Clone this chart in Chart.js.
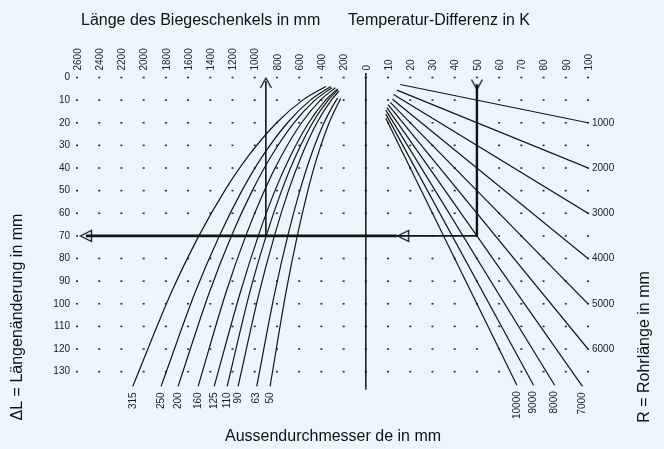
<!DOCTYPE html>
<html>
<head>
<meta charset="utf-8">
<script src="https://cdn.jsdelivr.net/npm/chart.js@4.4.1/dist/chart.umd.min.js"></script>
<style>
  html, body { margin: 0; padding: 0; background: #eaf5fc; }
</style>
</head>
<body>
<canvas id="nomogramm" width="664" height="449"></canvas>
<script>
// Achsenteilung: links Biegeschenkel in mm, rechts Temperaturdifferenz in K, senkrecht ΔL in mm
const laengeTicks = [2600, 2400, 2200, 2000, 1800, 1600, 1400, 1200, 1000, 800, 600, 400, 200];
const tempTicks = [0, 10, 20, 30, 40, 50, 60, 70, 80, 90, 100];
const dlTicks = [0, 10, 20, 30, 40, 50, 60, 70, 80, 90, 100, 110, 120, 130];

// Aussendurchmesser-Kurven: Biegeschenkel L (mm) bei den ΔL-Stützstellen
const durchmesser = ['315', '250', '200', '160', '125', '110', '90', '63', '50'];
const dlStuetz = [10, 20, 35, 50, 70, 95, 136.5];
const kurveStart = [[360, 4], [315, 4], [306, 4.5], [274, 4.5], [254, 5], [251, 5.5], [241, 6], [252, 9], [225, 9.3]];
const schenkelL = [
  [568, 803, 1062, 1270, 1503, 1751, 2098],
  [499, 705, 933, 1115, 1319, 1537, 1843],
  [457, 647, 855, 1022, 1210, 1409, 1690],
  [409, 578, 764, 914, 1081, 1259, 1510],
  [362, 514, 682, 818, 968, 1130, 1365],
  [339, 479, 634, 758, 897, 1045, 1248],
  [311, 440, 582, 696, 823, 959, 1150],
  [266, 376, 497, 594, 703, 819, 982],
  [233, 330, 437, 522, 617, 719, 862]
];

// Rohrlängen-Geraden: Anfangs- und Endpunkt (ΔT in K, ΔL in mm)
const rohrLaenge = [1000, 2000, 3000, 4000, 5000, 6000, 7000, 8000, 9000, 10000];
const rStartT = [15.5, 14, 12.5, 12, 11, 10, 9.5, 9, 9, 9];
const rStartDL = [3.1, 5.6, 7.5, 9.6, 11, 12, 13.3, 14.4, 16.2, 18];
const rEndT = [100, 100, 100, 100, 100, 100, 97.5, 85, 75.5, 68];
const rEndDL = [20, 40, 60, 80, 100, 120, 136.5, 136, 136, 136];

// Ablesebeispiel: ΔT = 50 K, R = 7000 mm -> ΔL = 70 mm -> L = 900 mm
const beispielDT = 50;
const beispielDL = 70;
const beispielL = 900;

const HG = '#eaf5fc';
const INK = '#141414';
const SCHRIFT = '"Liberation Sans", Arial, sans-serif';

// linke Hälfte: 200 mm Schenkel entsprechen 10 K
const X = l => -l / 20;

function pfeil(art) {
  const c = document.createElement('canvas');
  c.width = 14; c.height = 14;
  const g = c.getContext('2d');
  g.strokeStyle = INK; g.fillStyle = HG; g.lineWidth = 1.3;
  g.beginPath();
  if (art === 'hoch') { g.moveTo(1.5, 12); g.lineTo(7, 2); g.lineTo(12.5, 12); g.stroke(); }
  else if (art === 'runter') { g.moveTo(1.5, 2); g.lineTo(7, 12); g.lineTo(12.5, 2); g.stroke(); }
  else { g.moveTo(1.5, 7); g.lineTo(12.5, 1.5); g.lineTo(12.5, 12.5); g.closePath(); g.fill(); g.stroke(); }
  return c;
}

const datasets = [];

durchmesser.forEach((d, i) => {
  const pts = [{ x: X(kurveStart[i][0]), y: kurveStart[i][1] }];
  dlStuetz.forEach((dl, j) => pts.push({ x: X(schenkelL[i][j]), y: dl }));
  datasets.push({ data: pts, borderColor: INK, borderWidth: 1.2, pointRadius: 0, cubicInterpolationMode: 'monotone' });
});

rohrLaenge.forEach((r, i) => {
  datasets.push({
    data: [{ x: rStartT[i], y: rStartDL[i] }, { x: rEndT[i], y: rEndDL[i] }],
    borderColor: INK, borderWidth: 1.2, pointRadius: 0
  });
});

// Mittellinie bei 0
datasets.push({ data: [{ x: 0, y: -2 }, { x: 0, y: 138 }], borderColor: INK, borderWidth: 1.5, pointRadius: 0, clip: false });

// Beispiel-Linien
datasets.push({ data: [{ x: beispielDT, y: 3 }, { x: beispielDT, y: beispielDL }], borderColor: INK, borderWidth: 2.4, pointRadius: 0 });
datasets.push({ data: [{ x: beispielDT, y: beispielDL }, { x: 14, y: beispielDL }], borderColor: INK, borderWidth: 1.6, pointRadius: 0 });
datasets.push({ data: [{ x: 14, y: beispielDL }, { x: -126, y: beispielDL }], borderColor: INK, borderWidth: 2.6, pointRadius: 0 });
datasets.push({ data: [{ x: X(beispielL), y: beispielDL }, { x: X(beispielL), y: 1.5 }], borderColor: INK, borderWidth: 1.6, pointRadius: 0 });

// Pfeilspitzen
datasets.push({ data: [{ x: beispielDT, y: 3.1 }], showLine: false, pointStyle: pfeil('runter'), pointRadius: 7 });
datasets.push({ data: [{ x: X(beispielL), y: 2.4 }], showLine: false, pointStyle: pfeil('hoch'), pointRadius: 7 });
datasets.push({ data: [{ x: 16.8, y: beispielDL }, { x: -126, y: beispielDL }], showLine: false, pointStyle: pfeil('links'), pointRadius: 7 });

const hintergrund = {
  id: 'hintergrund',
  beforeDraw(chart) {
    const { ctx } = chart;
    ctx.save();
    ctx.fillStyle = HG;
    ctx.fillRect(0, 0, chart.width, chart.height);
    ctx.restore();
  },
  beforeDatasetsDraw(chart) {
    // Rasterpunkte an allen Schnittpunkten der Teilung
    const { ctx, scales: { x, y } } = chart;
    ctx.save();
    ctx.fillStyle = '#2a2a2a';
    x.ticks.forEach(tx => {
      const px = x.getPixelForValue(tx.value);
      y.ticks.forEach(ty => {
        const py = y.getPixelForValue(ty.value);
        ctx.fillRect(px - 1, py - 0.8, 2, 1.6);
      });
    });
    ctx.restore();
  }
};

const beschriftung = {
  id: 'beschriftung',
  afterDraw(chart) {
    const { ctx, scales: { x, y } } = chart;
    ctx.save();
    ctx.fillStyle = '#1c1c1c';

    // Durchmesser unter den Kurvenenden
    ctx.font = '10px ' + SCHRIFT;
    ctx.textBaseline = 'middle';
    durchmesser.forEach((d, i) => {
      const px = x.getPixelForValue(X(schenkelL[i][schenkelL[i].length - 1]));
      const py = y.getPixelForValue(dlStuetz[dlStuetz.length - 1]);
      ctx.save();
      ctx.translate(px, py + 6);
      ctx.rotate(-Math.PI / 2);
      ctx.textAlign = 'right';
      ctx.fillText(d, 0, 0);
      ctx.restore();
    });

    // Rohrlängen an den Geradenenden
    rohrLaenge.forEach((r, i) => {
      const px = x.getPixelForValue(rEndT[i]);
      const py = y.getPixelForValue(rEndDL[i]);
      if (rEndT[i] >= 100) {
        ctx.textAlign = 'left';
        ctx.fillText(String(r), px + 4, py);
      } else {
        ctx.save();
        ctx.translate(px, py + 6);
        ctx.rotate(-Math.PI / 2);
        ctx.textAlign = 'right';
        ctx.fillText(String(r), 0, 0);
        ctx.restore();
      }
    });

    // Achsentitel
    ctx.fillStyle = '#111';
    ctx.font = '16px ' + SCHRIFT;
    ctx.textAlign = 'left';
    ctx.fillText('Länge des Biegeschenkels in mm', 81, 21);
    ctx.fillText('Temperatur-Differenz in K', 348, 21);
    ctx.fillText('Aussendurchmesser de in mm', 225, 437);

    ctx.textAlign = 'center';
    ctx.save();
    ctx.translate(18, 317);
    ctx.rotate(-Math.PI / 2);
    ctx.fillText('ΔL = Längenänderung in mm', 0, 0);
    ctx.restore();
    ctx.save();
    ctx.translate(645, 347);
    ctx.rotate(-Math.PI / 2);
    ctx.fillText('R = Rohrlänge in mm', 0, 0);
    ctx.restore();

    ctx.restore();
  }
};

new Chart(document.getElementById('nomogramm'), {
  type: 'line',
  data: { datasets },
  options: {
    responsive: false,
    animation: false,
    devicePixelRatio: 1,
    layout: { padding: { left: 0, top: 0, right: 76, bottom: 61.5 } },
    plugins: { legend: { display: false }, tooltip: { enabled: false } },
    scales: {
      x: {
        type: 'linear',
        position: 'top',
        min: -130,
        max: 100,
        afterBuildTicks: s => {
          s.ticks = laengeTicks.map(l => ({ value: X(l) })).concat(tempTicks.map(t => ({ value: t })));
        },
        afterFit: s => { s.height = 77.5; },
        grid: { display: false, drawTicks: false },
        border: { display: false },
        ticks: {
          autoSkip: false,
          minRotation: 90,
          maxRotation: 90,
          padding: 7,
          labelOffset: 13,
          color: '#222',
          font: { size: 10, family: SCHRIFT },
          callback: v => (v < 0 ? String(-v * 20) : String(v))
        }
      },
      y: {
        type: 'linear',
        reverse: true,
        min: 0,
        max: 137,
        afterBuildTicks: s => { s.ticks = dlTicks.map(v => ({ value: v })); },
        afterFit: s => { s.width = 77; },
        grid: { display: false, drawTicks: false },
        border: { display: false },
        ticks: {
          padding: 7,
          color: '#222',
          font: { size: 10, family: SCHRIFT }
        }
      }
    }
  },
  plugins: [hintergrund, beschriftung]
});
</script>
</body>
</html>
